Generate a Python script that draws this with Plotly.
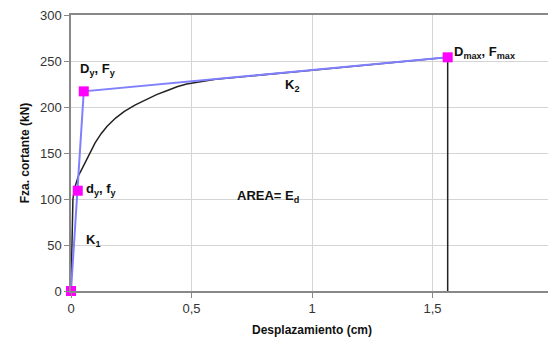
import plotly.graph_objects as go

# Data
curve_x = [0, 0.004, 0.008, 0.014, 0.022, 0.032, 0.044, 0.056, 0.07, 0.085, 0.1, 0.125, 0.15, 0.185, 0.22, 0.265,
           0.31, 0.355, 0.4, 0.44, 0.48, 0.54, 0.6, 1.0, 1.563, 1.563]
curve_y = [0, 60, 100, 111, 119, 126, 132, 138, 145, 153, 161, 171, 179, 188, 195, 202,
           208, 213.5, 218, 222, 225, 228, 230.2, 240, 254, 0]

bilin_x = [0, 0.028, 0.053, 1.563]
bilin_y = [0, 109, 217, 254]

pts_x = [0, 0.028, 0.053, 1.563]
pts_y = [0, 109, 217, 254]

x_ticks = [0, 0.5, 1, 1.5, 2]
x_ticklabels = ["0", "0,5", "1", "1,5", "2"]
y_ticks = [0, 50, 100, 150, 200, 250, 300]

fig = go.Figure()
fig.add_trace(go.Scatter(x=curve_x, y=curve_y, mode="lines",
                         line=dict(color="#222222", width=1.5),
                         cliponaxis=False, showlegend=False))
fig.add_trace(go.Scatter(x=bilin_x, y=bilin_y, mode="lines",
                         line=dict(color="#8080ff", width=2),
                         cliponaxis=False, showlegend=False))
fig.add_trace(go.Scatter(x=pts_x, y=pts_y, mode="markers",
                         marker=dict(symbol="square", size=10, color="#ff00ff"),
                         cliponaxis=False, showlegend=False))

font_ann = dict(family="Liberation Sans, Arial, sans-serif", size=13, color="#111111")
anns = [
    dict(x=0.053, y=217, text="<b>D<sub>y</sub>, F<sub>y</sub></b>", xshift=-6, yshift=22, xanchor="left", yanchor="middle"),
    dict(x=1.563, y=254, text="<b>D<sub>max</sub>, F<sub>max</sub></b>", xshift=4, yshift=5, xanchor="left", yanchor="middle"),
    dict(x=0.915, y=236, text="<b>K<sub>2</sub></b>", xshift=0, yshift=-12, xanchor="center", yanchor="middle"),
    dict(x=0.028, y=109, text="<b>d<sub>y</sub>, f<sub>y</sub></b>", xshift=6, yshift=1, xanchor="left", yanchor="middle"),
    dict(x=0.055, y=55, text="<b>K<sub>1</sub></b>", xshift=0, yshift=0, xanchor="left", yanchor="middle"),
    dict(x=0.68, y=103, text="<b>AREA= E<sub>d</sub></b>", xshift=0, yshift=0, xanchor="left", yanchor="middle"),
]
for a in anns:
    fig.add_annotation(showarrow=False, font=font_ann, **a)

axis_common = dict(showgrid=True, gridcolor="#d4d4d4", gridwidth=1,
                   showline=True, linecolor="#888888", linewidth=1.5, mirror=True,
                   ticks="outside", ticklen=5, tickcolor="#888888",
                   tickfont=dict(family="Liberation Sans, Arial, sans-serif", size=13, color="#333333"),
                   ticklabeloverflow="allow",
                   zeroline=False, automargin=False)

fig.update_xaxes(range=[0, 2], tickvals=x_ticks, ticktext=x_ticklabels,
                 title=dict(text="<b>Desplazamiento (cm)</b>", standoff=10,
                            font=dict(family="Liberation Sans, Arial, sans-serif", size=12, color="#111111")),
                 **axis_common)
fig.update_yaxes(range=[0, 300], tickvals=y_ticks,
                 title=dict(text="<b>Fza. cortante (kN)</b>", standoff=8,
                            font=dict(family="Liberation Sans, Arial, sans-serif", size=12, color="#111111")),
                 **axis_common)

fig.update_layout(width=548, height=332, margin=dict(l=63, r=3, t=7, b=49),
                  plot_bgcolor="white", paper_bgcolor="white")

fig.write_html("out.html", post_script="document.documentElement.style.overflow='hidden';")
